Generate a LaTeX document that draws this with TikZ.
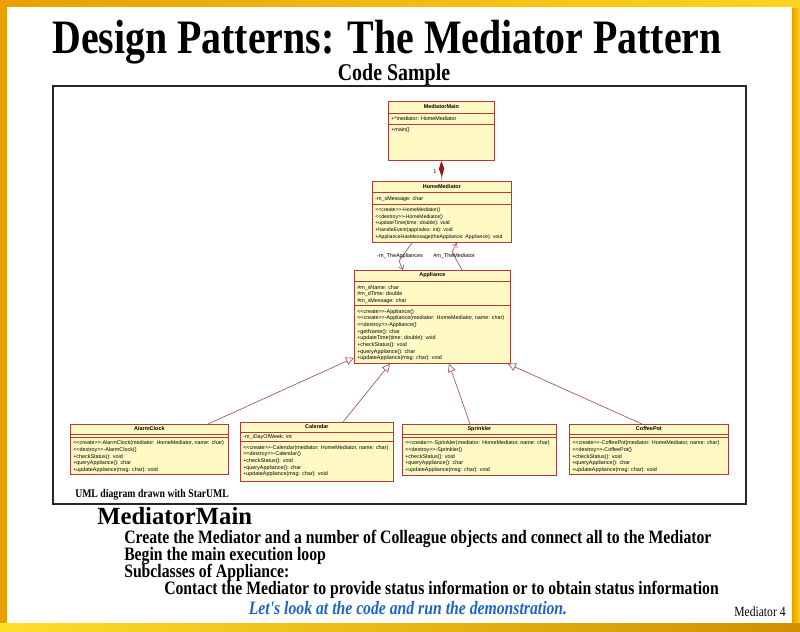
\documentclass[tikz,border=0pt]{standalone}
\usepackage{fontspec}
\usetikzlibrary{arrows.meta,calc}
\newfontfamily\slidefont[FakeStretch=0.83]{Liberation Serif}
\newfontfamily\headfont{Liberation Serif}
\newfontfamily\umlfont{Liberation Sans}
\definecolor{framegold}{RGB}{232,160,0}
\definecolor{frameyellow}{RGB}{255,222,40}
\definecolor{umlfill}{RGB}{255,250,196}
\definecolor{umlborder}{RGB}{170,60,60}
\definecolor{umllink}{RGB}{165,85,85}
\definecolor{umldiamond}{RGB}{150,20,20}
\definecolor{noteblue}{RGB}{30,100,200}
% stereotype brackets kept apart so they print as two signs
\newcommand\stereo[1]{<{}<#1>{}>}
% compartment divider at a given distance below the top of a class
\newcommand\divider[2]{\draw[umlborder,line width=0.5pt] ($(#1.north west)+(0,#2)$) -- ($(#1.north east)+(0,#2)$);}
% member lines of a compartment
\newcommand\members[3]{\node[umlblock] at ($(#1.north west)+(3,#2)$) {#3};}
\begin{document}
\begin{tikzpicture}[x=0.75pt,y=-0.75pt,
  classbox/.style={draw=umlborder,fill=umlfill,line width=0.6pt,inner sep=0pt,anchor=north west},
  umlblock/.style={font=\umlfont\fontsize{4.05}{5}\selectfont,inner sep=0pt,anchor=north west,align=left},
  umltitle/.style={font=\umlfont\bfseries\fontsize{4.1}{5}\selectfont,inner sep=0pt},
  umllabel/.style={font=\umlfont\fontsize{4.1}{5}\selectfont,inner sep=0pt},
  inherit/.style={draw=umllink,line width=0.5pt,-{Triangle[open,length=6pt,width=6pt,fill=white]}},
  assoc/.style={draw=umllink,line width=0.5pt,-{Straight Barb[length=3pt,width=4pt]}},
  slidetext/.style={inner sep=0pt,anchor=base west},
  notetext/.style={slidetext,font=\slidefont\bfseries\fontsize{14.2}{16}\selectfont}]
\useasboundingbox (0,0) rectangle (800,632);

% golden slide frame
\fill[framegold] (0,0) rectangle (800,632);
\shade[left color=framegold,right color=frameyellow!80!framegold] (792,0) rectangle (800,632);
\shade[left color=framegold,middle color=frameyellow!60!white,right color=frameyellow!85!framegold] (0,0) rectangle (800,7);
\shade[left color=frameyellow,middle color=frameyellow!70!framegold,right color=framegold!90!black] (0,623) rectangle (800,632);
\fill[white] (7,7) rectangle (792,623);

% headings
\node[slidetext] (title) at (52,53) {\slidefont\bfseries\fontsize{36}{40}\selectfont Design Patterns: The Mediator Pattern};
\node[inner sep=0pt,anchor=base] (sub) at (394,80) {\slidefont\bfseries\fontsize{18}{20}\selectfont Code Sample};

% diagram panel
\draw[line width=0.9pt,black!85] (53,86) rectangle (746,504);
\node[slidetext] (credit) at (75,497) {\slidefont\bfseries\fontsize{8.8}{10}\selectfont UML diagram drawn with StarUML};

% ---- classes ----
\node[classbox,minimum width={106*0.75pt},minimum height={59*0.75pt}] (mm) at (388,101) {};
\divider{mm}{12}\divider{mm}{23}
\node[umltitle] at ($(mm.north)+(0,6)$) {MediatorMain};
\members{mm}{15.5}{+*mediator: HomeMediator}
\members{mm}{26}{+main()}

\node[classbox,minimum width={139*0.75pt},minimum height={61*0.75pt}] (hm) at (372,181) {};
\divider{hm}{11}\divider{hm}{23}
\node[umltitle] at ($(hm.north)+(0,5.5)$) {HomeMediator};
\members{hm}{15}{-m\_sMessage: char}
\node[umlblock,font=\umlfont\fontsize{3.85}{5}\selectfont] at ($(hm.north west)+(3,26.5)$) {\stereo{create}-HomeMediator()\\
\stereo{destroy}-HomeMediator()\\
+updateTime(time: double): void\\
+handleEvent(appIndex: int): void\\
+ApplianceHasMessage(theAppliance: Appliance): void};

\node[classbox,minimum width={156*0.75pt},minimum height={93*0.75pt}] (app) at (354,270) {};
\divider{app}{11}\divider{app}{35}
\node[umltitle] at ($(app.north)+(0,5.5)$) {Appliance};
\members{app}{15}{\#m\_sName: char\\
\#m\_dTime: double\\
\#m\_sMessage: char}
\members{app}{39}{\stereo{create}-Appliance()\\
\stereo{create}-Appliance(mediator: HomeMediator, name: char)\\
\stereo{destroy}-Appliance()\\
+getName(): char\\
+updateTime(time: double): void\\
+checkStatus(): void\\
+queryAppliance(): char\\
+updateAppliance(msg: char): void}

\node[classbox,minimum width={158*0.75pt},minimum height={50*0.75pt}] (ac) at (70,424) {};
\divider{ac}{10}\divider{ac}{13}
\node[umltitle] at ($(ac.north)+(0,5)$) {AlarmClock};
\members{ac}{16.5}{\stereo{create}-AlarmClock(mediator: HomeMediator, name: char)\\
\stereo{destroy}-AlarmClock()\\
+checkStatus(): void\\
+queryAppliance(): char\\
+updateAppliance(msg: char): void}

\node[classbox,minimum width={153*0.75pt},minimum height={59*0.75pt}] (cal) at (240,422) {};
\divider{cal}{10}\divider{cal}{19}
\node[umltitle] at ($(cal.north)+(0,5)$) {Calendar};
\members{cal}{12.5}{-m\_iDayOfWeek: int}
\members{cal}{23}{\stereo{create}-Calendar(mediator: HomeMediator, name: char)\\
\stereo{destroy}-Calendar()\\
+checkStatus(): void\\
+queryAppliance(): char\\
+updateAppliance(msg: char): void}

\node[classbox,minimum width={154*0.75pt},minimum height={51*0.75pt}] (spr) at (402,424) {};
\divider{spr}{10}\divider{spr}{13}
\node[umltitle] at ($(spr.north)+(0,5)$) {Sprinkler};
\members{spr}{16.5}{\stereo{create}-Sprinkler(mediator: HomeMediator, name: char)\\
\stereo{destroy}-Sprinkler()\\
+checkStatus(): void\\
+queryAppliance(): char\\
+updateAppliance(msg: char): void}

\node[classbox,minimum width={159*0.75pt},minimum height={50*0.75pt}] (cp) at (569,424) {};
\divider{cp}{10}\divider{cp}{13}
\node[umltitle] at ($(cp.north)+(0,5)$) {CoffeePot};
\members{cp}{16.5}{\stereo{create}-CoffeePot(mediator: HomeMediator, name: char)\\
\stereo{destroy}-CoffeePot()\\
+checkStatus(): void\\
+queryAppliance(): char\\
+updateAppliance(msg: char): void}

% ---- relationships ----
% composition MediatorMain <>-- HomeMediator
\draw[draw=umllink,line width=0.5pt,{Diamond[length=12pt,width=4pt,fill=umldiamond,umldiamond]}-] (mm.south) -- (hm.north);
\node[umllabel] (one) at (435,172) {1};

% associations between HomeMediator and Appliance
\draw[assoc] ($(hm.south west)+(40,0)$) -- (399,261) -- ($(app.north west)+(49,0)$);
\draw[assoc] ($(app.north west)+(108,0)$) -- (452,252) -- ($(hm.south west)+(85,0)$);
\node[umllabel] (la) at (400,256) {-m\_TheAppliances};
\node[umllabel] (lm) at (454,256) {\#m\_TheMediator};

% generalisations
\draw[inherit] ($(ac.north west)+(138,0)$) -- ($(app.south west)+(0,-6)$);
\draw[inherit] ($(cal.north west)+(103,0)$) -- ($(app.south west)+(36,0)$);
\draw[inherit] ($(spr.north west)+(68,0)$) -- ($(app.south west)+(95,0)$);
\draw[inherit] ($(cp.north west)+(73,0)$) -- ($(app.south east)+(-3,0)$);

% notes below the diagram
\node[slidetext] (mmhead) at (97,524) {\headfont\bfseries\fontsize{18.5}{20}\selectfont MediatorMain};
\node[notetext] (l1) at (124,543) {Create the Mediator and a number of Colleague objects and connect all to the Mediator};
\node[notetext] (l2) at (124,560) {Begin the main execution loop};
\node[notetext] (l3) at (124,577) {Subclasses of Appliance:};
\node[notetext] (l4) at (164,594) {Contact the Mediator to provide status information or to obtain status information};
\node[inner sep=0pt,anchor=base,text=noteblue] (demo) at (408,614) {\slidefont\bfseries\itshape\fontsize{14.2}{16}\selectfont Let's look at the code and run the demonstration.};
\node[slidetext] (pg) at (734,616) {\slidefont\fontsize{10.5}{12}\selectfont Mediator 4};
\end{tikzpicture}
\end{document}
